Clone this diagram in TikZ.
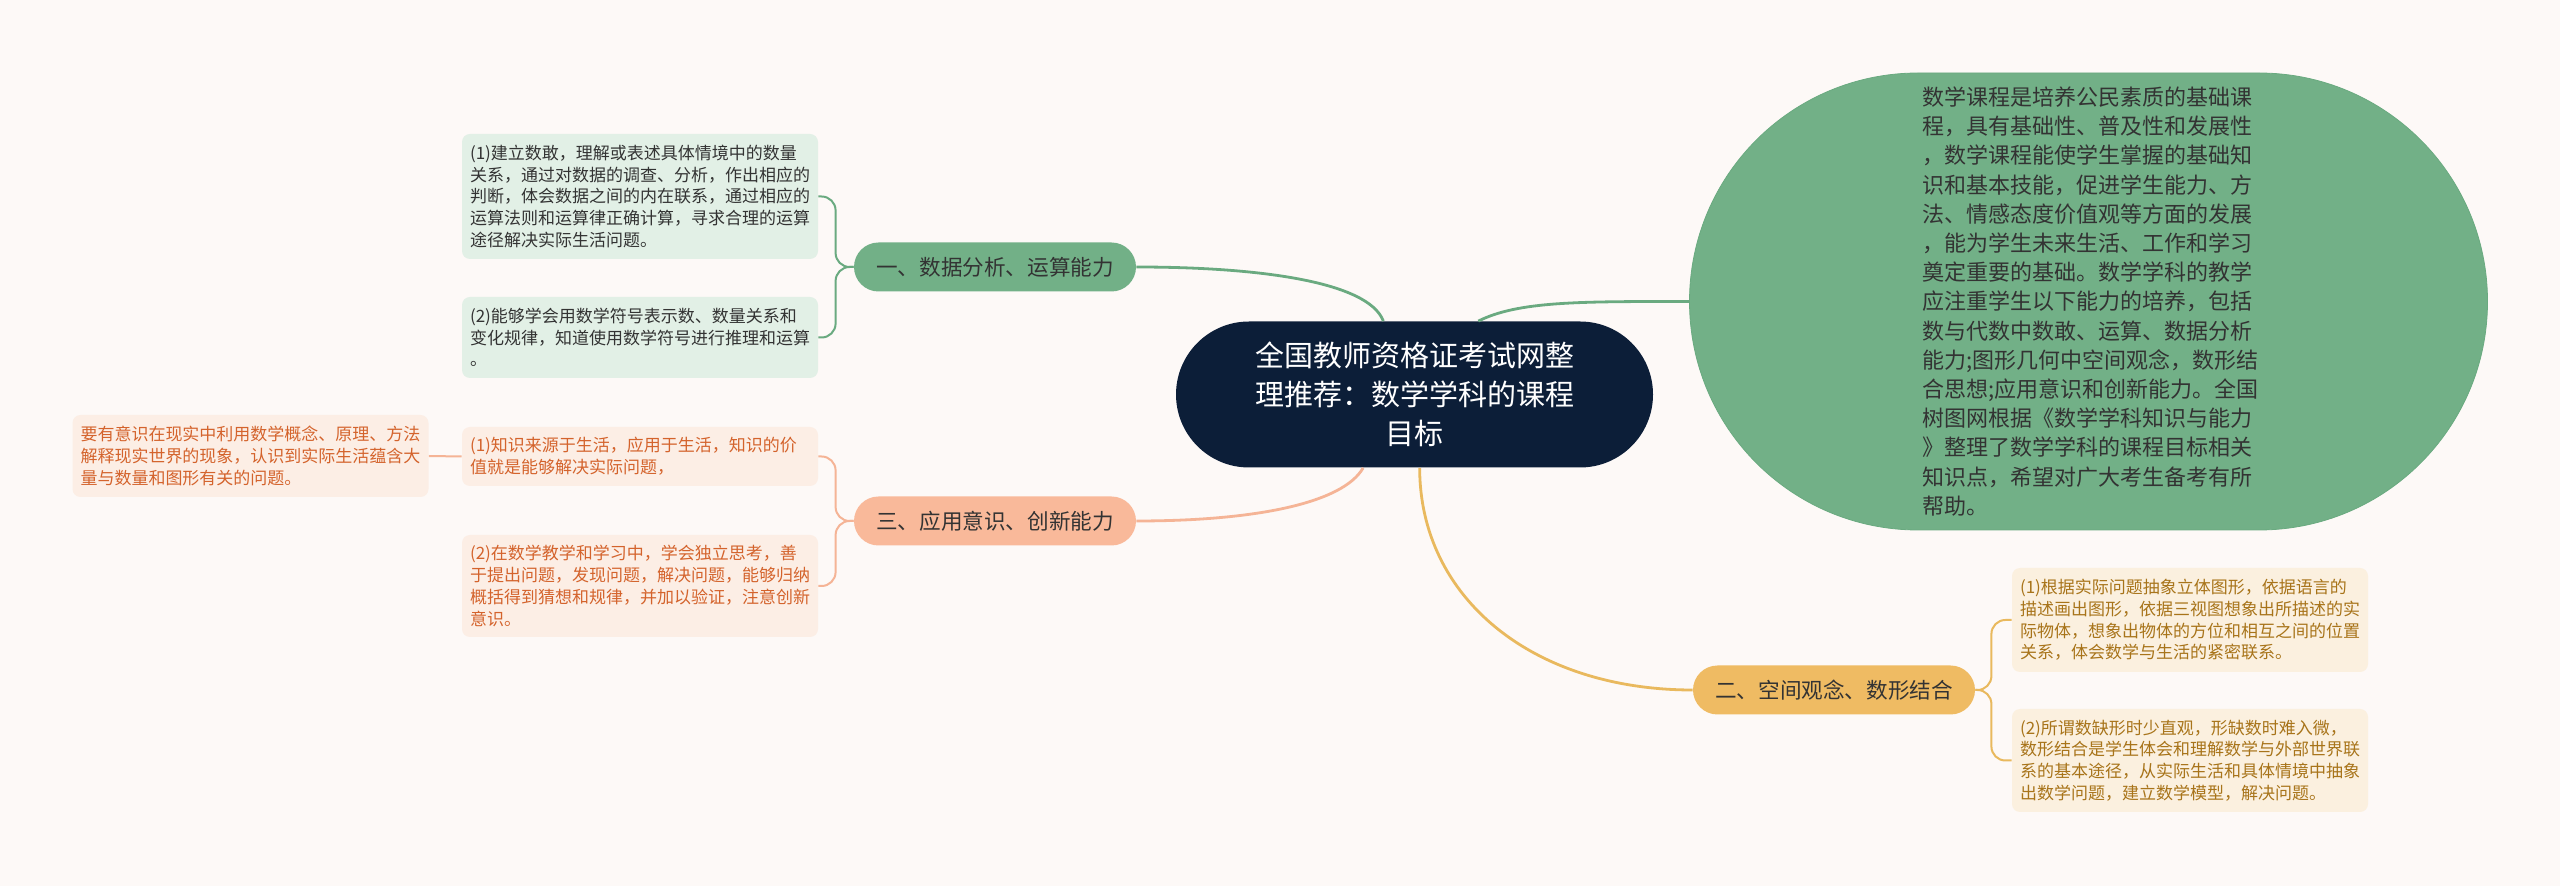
\documentclass[tikz,border=0pt]{standalone}
\usepackage{fontspec}
\newfontfamily\cjk{Noto Sans CJK SC}
\usetikzlibrary{shapes.misc}
\definecolor{bgpaper}{HTML}{FDF9F7}
\definecolor{rootblue}{HTML}{0C1E38}
\definecolor{textgray}{HTML}{333333}
\definecolor{greenmain}{HTML}{72B087}
\definecolor{greenline}{HTML}{6AAA80}
\definecolor{greenleaf}{HTML}{E2F0E6}
\definecolor{salmonmain}{HTML}{F9B99A}
\definecolor{salmonline}{HTML}{F5B496}
\definecolor{salmonleaf}{HTML}{FCEEE5}
\definecolor{salmontext}{HTML}{D4632C}
\definecolor{goldmain}{HTML}{EFBB63}
\definecolor{goldline}{HTML}{E9B95E}
\definecolor{goldleaf}{HTML}{FBF0DF}
\definecolor{goldtext}{HTML}{A8741A}
\tikzset{
  root node/.style={rounded rectangle,fill=rootblue,text=white,minimum width=242.5pt,minimum height=73pt,inner sep=2pt,align=center,font=\cjk\fontsize{14.5}{19.5}\selectfont},
  topic node/.style={rounded rectangle,minimum width=145pt,minimum height=24.5pt,inner sep=2pt,text=textgray,font=\cjk\fontsize{10.8}{13}\selectfont},
  intro node/.style={rounded rectangle,fill=greenmain,draw=greenline,minimum width=399pt,minimum height=228.5pt,inner sep=0pt,text width=166pt,align=left,text=textgray,font=\cjk\fontsize{11}{14.6}\selectfont},
  leaf box/.style={rectangle,rounded corners=4pt,text width=170pt,inner sep=4pt,align=left,font=\cjk\fontsize{8.5}{10.9}\selectfont},
  green leaf/.style={leaf box,fill=greenleaf,text=textgray},
  salmon leaf/.style={leaf box,fill=salmonleaf,text=salmontext},
  gold leaf/.style={leaf box,fill=goldleaf,text=goldtext},
  main edge/.style={line width=1.4pt},
  leaf edge/.style={line width=1pt,rounded corners=7pt},
}
\begin{document}
\begin{tikzpicture}[x=0.5pt,y=-0.5pt]
  \useasboundingbox (0,0) rectangle (2560,886);
  \fill[bgpaper] (0,0) rectangle (2560,886);
  % centre and topics
  \node[root node] (root) at (1414.5,394.5) {全国教师资格证考试网整\\理推荐：数学学科的课程\\目标};
  \node[topic node,fill=greenmain] (t1) at (995,267) {一、数据分析、运算能力};
  \node[topic node,fill=salmonmain] (t3) at (995,521) {三、应用意识、创新能力};
  \node[topic node,fill=goldmain] (t2) at (1834,690) {二、空间观念、数形结合};
  \node[intro node] (intro) at (2088.5,301.5) {数学课程是培养公民素质的基础课\\程，具有基础性、普及性和发展性\\，数学课程能使学生掌握的基础知\\识和基本技能，促进学生能力、方\\法、情感态度价值观等方面的发展\\，能为学生未来生活、工作和学习\\奠定重要的基础。数学学科的教学\\应注重学生以下能力的培养，包括\\数与代数中数敢、运算、数据分析\\能力;图形几何中空间观念，数形结\\合思想;应用意识和创新能力。全国\\树图网根据《数学学科知识与能力\\》整理了数学学科的课程目标相关\\知识点，希望对广大考生备考有所\\帮助。};
  % leaves
  \node[green leaf,minimum height=62.5pt] (g1) at (640,196.5) {(1)建立数敢，理解或表述具体情境中的数量\\关系，通过对数据的调查、分析，作出相应的\\判断，体会数据之间的内在联系，通过相应的\\运算法则和运算律正确计算，寻求合理的运算\\途径解决实际生活问题。};
  \node[green leaf,minimum height=40.5pt] (g2) at (640,337.5) {(2)能够学会用数学符号表示数、数量关系和\\变化规律，知道使用数学符号进行推理和运算\\。};
  \node[salmon leaf,minimum height=29.5pt] (o1) at (640,456.5) {(1)知识来源于生活，应用于生活，知识的价\\值就是能够解决实际问题，};
  \node[salmon leaf,minimum height=51pt] (o2) at (640,586) {(2)在数学教学和学习中，学会独立思考，善\\于提出问题，发现问题，解决问题，能够归纳\\概括得到猜想和规律，并加以验证，注意创新\\意识。};
  \node[salmon leaf,minimum height=41pt] (o0) at (250.5,456) {要有意识在现实中利用数学概念、原理、方法\\解释现实世界的现象，认识到实际生活蕴含大\\量与数量和图形有关的问题。};
  \node[gold leaf,minimum height=52pt] (y1) at (2190,620) {(1)根据实际问题抽象立体图形，依据语言的\\描述画出图形，依据三视图想象出所描述的实\\际物体，想象出物体的方位和相互之间的位置\\关系，体会数学与生活的紧密联系。};
  \node[gold leaf,minimum height=51.5pt] (y2) at (2190,760.5) {(2)所谓数缺形时少直观，形缺数时难入微，\\数形结合是学生体会和理解数学与外部世界联\\系的基本途径，从实际生活和具体情境中抽象\\出数学问题，建立数学模型，解决问题。};
  % connectors
  \draw[main edge,greenline] (root.113) .. controls +(-15,-40) and +(120,0) .. (t1.east);
  \draw[main edge,greenline] (root.49) .. controls +(40,-20) and +(-110,0) .. (intro.west);
  \draw[main edge,salmonline] (root.235) .. controls +(-20,35) and +(120,0) .. (t3.east);
  \draw[main edge,goldline] (root.274) .. controls +(0,130) and +(-160,0) .. (t2.west);
  \draw[leaf edge,greenline] (t1.west) -- ++(-18,0) |- (g1.east);
  \draw[leaf edge,greenline] (t1.west) -- ++(-18,0) |- (g2.east);
  \draw[leaf edge,salmonline] (t3.west) -- ++(-18,0) |- (o1.east);
  \draw[leaf edge,salmonline] (t3.west) -- ++(-18,0) |- (o2.east);
  \draw[leaf edge,salmonline] (o1.west) -- (o0.east);
  \draw[leaf edge,goldline] (t2.east) -- ++(16,0) |- (y1.west);
  \draw[leaf edge,goldline] (t2.east) -- ++(16,0) |- (y2.west);
\end{tikzpicture}
\end{document}
